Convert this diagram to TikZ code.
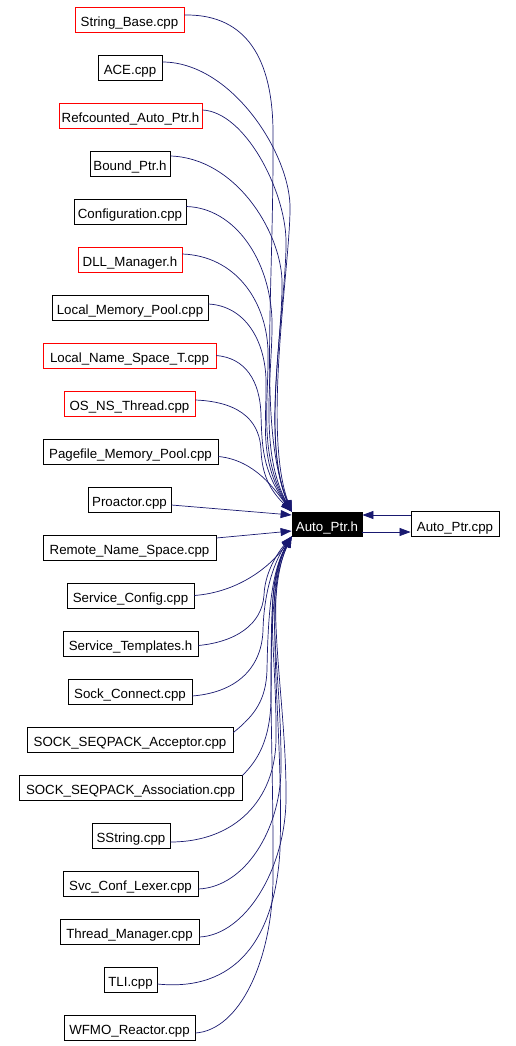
\documentclass[tikz,border=0pt]{standalone}
\usepackage{fontspec}
\setmainfont{Liberation Sans}
\usetikzlibrary{arrows.meta}
\definecolor{navy}{HTML}{191970}
\tikzset{
  file/.style={draw=black, line width=0.8pt, fill=white, inner sep=0pt, minimum height=25pt, text height=14pt, text depth=0pt, font=\fontsize{13.3}{15}\selectfont},
  redfile/.style={file, draw=red},
  dep/.style={draw=navy, line width=0.7pt, -{Triangle[length=11pt,width=8pt]}},
}
\begin{document}
\begin{tikzpicture}[x=1pt,y=-1pt]
\useasboundingbox (0,0) rectangle (515,1046);
% nodes
\node[redfile, minimum width=109pt] (n1) at (129.5,19.5) {String\_Base.cpp};
\node[file, minimum width=64pt] (n2) at (130,67.5) {ACE.cpp};
\node[redfile, minimum width=143pt] (n3) at (130.5,115.5) {Refcounted\_Auto\_Ptr.h};
\node[file, minimum width=80pt] (n4) at (130,163.5) {Bound\_Ptr.h};
\node[file, minimum width=112pt] (n5) at (130,211.5) {Configuration.cpp};
\node[redfile, minimum width=104pt] (n6) at (130,259.5) {DLL\_Manager.h};
\node[file, minimum width=156pt] (n7) at (130,307.5) {Local\_Memory\_Pool.cpp};
\node[redfile, minimum width=173pt] (n8) at (129.5,355.5) {Local\_Name\_Space\_T.cpp};
\node[redfile, minimum width=131pt] (n9) at (129.5,403.5) {OS\_NS\_Thread.cpp};
\node[file, minimum width=175pt] (n10) at (130.5,451.5) {Pagefile\_Memory\_Pool.cpp};
\node[file, minimum width=83pt] (n11) at (129.5,499.5) {Proactor.cpp};
\node[file, minimum width=173pt] (n12) at (129.5,547.5) {Remote\_Name\_Space.cpp};
\node[file, minimum width=127pt] (n13) at (130.5,595.5) {Service\_Config.cpp};
\node[file, minimum width=135pt] (n14) at (130.5,643.5) {Service\_Templates.h};
\node[file, minimum width=124pt] (n15) at (130,691.5) {Sock\_Connect.cpp};
\node[file, minimum width=206pt] (n16) at (130,739.5) {SOCK\_SEQPACK\_Acceptor.cpp};
\node[file, minimum width=223pt] (n17) at (130.5,787.5) {SOCK\_SEQPACK\_Association.cpp};
\node[file, minimum width=78pt] (n18) at (131,835.5) {SString.cpp};
\node[file, minimum width=135pt] (n19) at (130.5,883.5) {Svc\_Conf\_Lexer.cpp};
\node[file, minimum width=139pt] (n20) at (129.5,931.5) {Thread\_Manager.cpp};
\node[file, minimum width=53pt] (n21) at (130.5,979.5) {TLI.cpp};
\node[file, minimum width=131pt] (n22) at (129.5,1027.5) {WFMO\_Reactor.cpp};
\node[file, fill=black, text=white, minimum width=70pt, minimum height=24pt] (ap) at (327,524) {Auto\_Ptr.h};
\node[file, minimum width=88pt] (apc) at (455,524) {Auto\_Ptr.cpp};
% edges from above
\draw[dep] ([yshift=4.5pt]n1.east) .. controls (240,14) and (272,50) .. (273,130) .. controls (274,300) and (258,430) .. (ap.north west);
\draw[dep] ([yshift=5.5pt]n2.east) .. controls (230,62) and (288,150) .. (290,205) .. controls (291,260) and (262,430) .. (ap.north west);
\draw[dep] ([yshift=5.5pt]n3.east) .. controls (245,112) and (285,190) .. (286,240) .. controls (287,300) and (260,440) .. (ap.north west);
\draw[dep] ([yshift=7.5pt]n4.east) .. controls (235,158) and (280,230) .. (282,280) .. controls (283,340) and (262,440) .. (ap.north west);
\draw[dep] ([yshift=5pt]n5.east) .. controls (235,208) and (270,260) .. (272,320) .. controls (273,370) and (258,450) .. (ap.north west);
\draw[dep] ([yshift=5.5pt]n6.east) .. controls (235,256) and (266,300) .. (268,350) .. controls (269,400) and (258,455) .. (ap.north west);
\draw[dep] ([yshift=3.5pt]n7.east) .. controls (245,306) and (265,340) .. (266,380) .. controls (267,420) and (258,460) .. (ap.north west);
\draw[dep] (n8.east) .. controls (245,358) and (260,380) .. (261,415) .. controls (262,445) and (262,470) .. (ap.north west);
\draw[dep] ([yshift=3.5pt]n9.east) .. controls (245,402) and (260,425) .. (261,450) .. controls (262,475) and (270,490) .. (ap.north west);
\draw[dep] ([yshift=-5pt]n10.east) .. controls (255,460) and (275,490) .. (ap.north west);
\draw[dep] ([yshift=-5.5pt]n11.east) -- ([yshift=9pt]ap.west);
\draw[dep] ([yshift=9.5pt]n12.east) -- ([yshift=-7pt]ap.west);
% edges from below
\draw[dep] (n13.east) .. controls (240,592) and (272,565) .. (ap.south west);
\draw[dep] ([yshift=-2pt]n14.east) .. controls (235,642) and (262,625) .. (264,595) .. controls (265,570) and (280,550) .. (ap.south west);
\draw[dep] ([yshift=-4.5pt]n15.east) .. controls (240,692) and (262,665) .. (263,630) .. controls (264,590) and (275,560) .. (ap.south west);
\draw[dep] ([yshift=7pt]n16.east) .. controls (255,715) and (266,700) .. (267,670) .. controls (268,610) and (272,570) .. (ap.south west);
\draw[dep] ([yshift=12pt]n17.east) .. controls (258,760) and (270,740) .. (271,700) .. controls (272,630) and (268,580) .. (ap.south west);
\draw[dep] ([yshift=-6.5pt]n18.east) .. controls (235,842) and (275,800) .. (276,740) .. controls (277,650) and (262,590) .. (ap.south west);
\draw[dep] ([yshift=-5.5pt]n19.east) .. controls (245,887) and (280,830) .. (281,770) .. controls (282,670) and (262,590) .. (ap.south west);
\draw[dep] ([yshift=-5.5pt]n20.east) .. controls (245,935) and (285,870) .. (286,800) .. controls (287,700) and (262,590) .. (ap.south west);
\draw[dep] ([yshift=-4.5pt]n21.east) .. controls (235,992) and (275,940) .. (280,850) .. controls (284,720) and (262,600) .. (ap.south west);
\draw[dep] ([yshift=-5.5pt]n22.east) .. controls (240,1030) and (272,960) .. (273,880) .. controls (274,720) and (262,600) .. (ap.south west);
% mutual edges
\draw[dep] ([yshift=9pt]apc.west) -- ([yshift=9pt]ap.east);
\draw[dep] ([yshift=-8pt]ap.east) -- ([yshift=-8pt]apc.west);
\end{tikzpicture}
\end{document}
